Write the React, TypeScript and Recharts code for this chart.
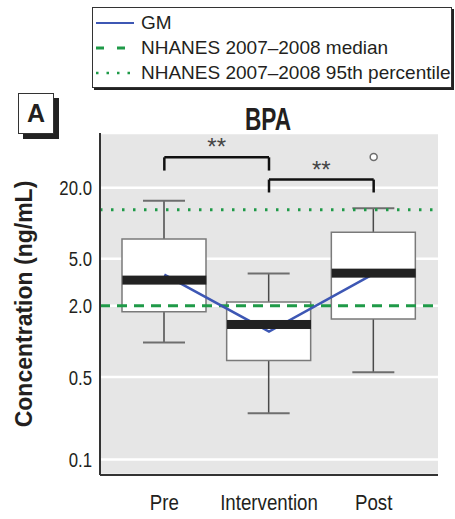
import React from 'react';
import {
  ComposedChart,
  Bar,
  Line,
  Scatter,
  XAxis,
  YAxis,
  CartesianGrid,
  ReferenceLine,
  ReferenceDot,
  Label,
} from 'recharts';

// BPA concentrations (ng/mL)
const categories = ['Pre', 'Intervention', 'Post'];
const whiskerLow = [0.98, 0.247, 0.548];
const quartile1 = [1.78, 0.69, 1.55];
const medians = [3.3, 1.39, 3.78];
const quartile3 = [7.35, 2.15, 8.4];
const whiskerHigh = [15.5, 3.76, 13.4];
const geoMeans = [3.67, 1.21, 3.72];
const outlierGroups = ['Post'];
const outlierValues = [36.4];
const yTicks = [0.1, 0.5, 2, 5, 20];
const nhanesMedian = 2.0;
const nhanes95th = 13;

// significance brackets
const bracketFrom = ['Pre', 'Intervention'];
const bracketTo = ['Intervention', 'Post'];
const bracketTop = [36.1, 23.4];
const bracketFoot = [27.9, 18.2];
const bracketLabel = ['**', '**'];

const FONT = '"Liberation Sans", Arial, sans-serif';
const INK = '#231f20';
const BOX_W = 84;
const PAD = { left: 12, right: 12 };
const GREEN = '#1f9a48';
const BLUE = '#3d57b4';

const data = categories.map((name, i) => ({
  name,
  whisker: [whiskerLow[i], whiskerHigh[i]],
  box: [quartile1[i], quartile3[i]],
  median: medians[i],
  gm: geoMeans[i],
}));

const WhiskerShape = (props: any) => {
  const { x, y, width, height } = props;
  const cx = x + width / 2;
  const top = Math.min(y, y + height);
  const bot = Math.max(y, y + height);
  const cap = width / 4;
  return (
    <g>
      <line x1={cx} x2={cx} y1={top} y2={bot} stroke="#4a4a4a" strokeWidth={1.5} />
      <line x1={cx - cap} x2={cx + cap} y1={top} y2={top} stroke="#6e6e6e" strokeWidth={2} />
      <line x1={cx - cap} x2={cx + cap} y1={bot} y2={bot} stroke="#6e6e6e" strokeWidth={2} />
    </g>
  );
};

const MedianShape = (props: any) => {
  const { cx, cy } = props;
  return <rect x={cx - BOX_W / 2} y={cy - 4.5} width={BOX_W} height={9} fill="#222" />;
};

// narrow-looking tick labels: squeeze the glyphs horizontally
const YTick = (props: any) => {
  const { x, y, payload } = props;
  return (
    <g transform={`translate(${x},${y})`}>
      <text transform="scale(0.8,1)" textAnchor="end" dy="0.36em" fontSize={21} fill={INK} fontFamily={FONT}>
        {Number(payload.value).toFixed(1)}
      </text>
    </g>
  );
};

const XTick = (props: any) => {
  const { x, y, payload } = props;
  return (
    <g transform={`translate(${x},${y})`}>
      <text transform="scale(0.85,1)" textAnchor="middle" dy={27} fontSize={22} fill={INK} fontFamily={FONT}>
        {payload.value}
      </text>
    </g>
  );
};

const legendRows = [
  { label: 'GM', color: BLUE, dash: undefined, width: 2 },
  { label: 'NHANES 2007\u20132008 median', color: GREEN, dash: '8 13', width: 3 },
  { label: 'NHANES 2007\u20132008 95th percentile', color: GREEN, dash: '2.5 8', width: 2.5 },
];

const App: React.FC = () => {
  return (
    <div style={{ position: 'absolute', left: 0, top: 0, width: 455, height: 519, background: '#fff', fontFamily: FONT }}>
      {/* legend box */}
      <div
        style={{
          position: 'absolute',
          left: 92,
          top: 7,
          width: 358,
          height: 79,
          border: '1px solid #333',
          boxShadow: '2px 2px 0 #222',
          background: '#fff',
        }}
      >
        {legendRows.map((r, i) => (
          <div key={r.label} style={{ position: 'absolute', left: 2, top: 2 + i * 25, height: 25, display: 'flex', alignItems: 'center' }}>
            <svg width={40} height={10} style={{ marginRight: 6 }}>
              <line x1={1} x2={39} y1={5} y2={5} stroke={r.color} strokeWidth={r.width} strokeDasharray={r.dash} />
            </svg>
            <span style={{ fontSize: 19, color: INK, whiteSpace: 'nowrap', lineHeight: '25px' }}>{r.label}</span>
          </div>
        ))}
      </div>

      {/* panel letter */}
      <div
        style={{
          position: 'absolute',
          left: 18,
          top: 93,
          width: 34,
          height: 39,
          border: '1.5px solid #333',
          boxShadow: '5px 5px 0 #222',
          background: '#fff',
          fontSize: 25,
          fontWeight: 'bold',
          textAlign: 'center',
          lineHeight: '39px',
          color: INK,
        }}
      >
        A
      </div>

      {/* title */}
      <div
        style={{
          position: 'absolute',
          left: 218,
          top: 105,
          width: 100,
          textAlign: 'center',
          fontSize: 31,
          lineHeight: '30px',
          fontWeight: 'bold',
          color: INK,
          transform: 'scaleX(0.73)',
        }}
      >
        BPA
      </div>

      <div style={{ position: 'absolute', left: 0, top: 0 }}>
        <ComposedChart width={455} height={519} data={data} margin={{ top: 133, right: 17, bottom: 0, left: 10 }}>
          <CartesianGrid fill="#e6e6e6" fillOpacity={1} stroke="#fff" strokeWidth={2.5} vertical={false} />
          <XAxis
            xAxisId="main"
            dataKey="name"
            padding={PAD}
            height={44}
            tickLine={false}
            axisLine={{ stroke: '#333', strokeWidth: 2 }}
            tick={<XTick />}
          />
          <XAxis xAxisId="w" dataKey="name" padding={PAD} height={0} hide />
          <XAxis xAxisId="b" dataKey="name" padding={PAD} height={0} hide />
          <YAxis
            scale="log"
            type="number"
            domain={[0.074, 58]}
            allowDataOverflow
            ticks={yTicks}
            width={90}
            tickLine={false}
            axisLine={{ stroke: '#333', strokeWidth: 2 }}
            tick={<YTick />}
          >
            <Label
              value="Concentration (ng/mL)"
              angle={-90}
              position="insideLeft"
              offset={14}
              style={{ textAnchor: 'middle', fontSize: 23, fontWeight: 'bold', fill: INK, fontFamily: FONT }}
            />
          </YAxis>

          <Bar xAxisId="w" dataKey="whisker" barSize={BOX_W} shape={WhiskerShape} isAnimationActive={false} />
          <Bar xAxisId="b" dataKey="box" barSize={BOX_W} fill="#fff" stroke="#7a7a7a" strokeWidth={1.5} isAnimationActive={false} />
          <Scatter xAxisId="main" dataKey="median" shape={MedianShape} isAnimationActive={false} />

          <ReferenceLine xAxisId="main" y={nhanes95th} stroke={GREEN} strokeWidth={3} strokeDasharray="2.5 8.5" />
          <ReferenceLine xAxisId="main" y={nhanesMedian} stroke={GREEN} strokeWidth={3} strokeDasharray="10 7" />

          <Line xAxisId="main" dataKey="gm" stroke={BLUE} strokeWidth={2.5} dot={false} isAnimationActive={false} />

          {bracketFrom.map((from, i) => (
            <ReferenceLine
              key={`h-${i}`}
              xAxisId="main"
              segment={[
                { x: from, y: bracketTop[i] },
                { x: bracketTo[i], y: bracketTop[i] },
              ]}
              stroke="#111"
              strokeWidth={2.5}
              label={{ value: bracketLabel[i], position: 'top', offset: 2, fill: '#444', fontSize: 24, fontFamily: FONT }}
            />
          ))}
          {bracketFrom.map((from, i) =>
            [from, bracketTo[i]].map((g) => (
              <ReferenceLine
                key={`v-${i}-${g}`}
                xAxisId="main"
                segment={[
                  { x: g, y: bracketTop[i] },
                  { x: g, y: bracketFoot[i] },
                ]}
                stroke="#111"
                strokeWidth={2.5}
              />
            ))
          )}
          {outlierGroups.map((g, i) => (
            <ReferenceDot key={g} xAxisId="main" x={g} y={outlierValues[i]} r={3.5} fill="#fff" stroke="#6e6e6e" strokeWidth={1.5} />
          ))}
        </ComposedChart>
      </div>
    </div>
  );
};

export default App;
